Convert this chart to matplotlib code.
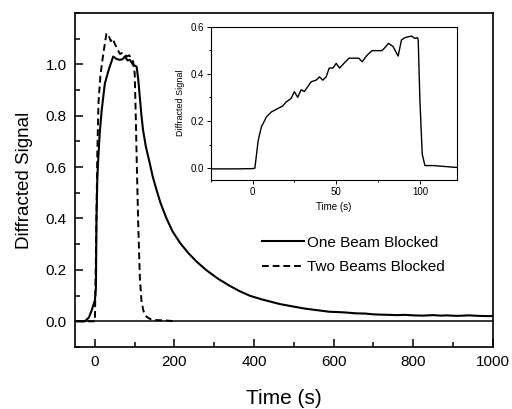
import matplotlib
matplotlib.use('Agg')
import matplotlib.pyplot as plt
from matplotlib.ticker import MultipleLocator

plt.rcParams['font.family'] = ['Liberation Sans', 'DejaVu Sans']

# main panel: one beam blocked (solid)
t_one = [-45, -25, -15, -8, 0, 2.5, 4, 6, 8, 12, 17, 25, 35, 46, 55, 63, 70, 75, 82, 88,
         96, 100, 105, 109, 113, 117, 121, 128, 138, 145, 155, 165, 180, 195, 214, 235, 255,
         280, 310, 340, 364, 390, 420, 445, 465, 500, 525, 549, 570, 590, 610, 632, 655, 680,
         700, 716, 740, 760, 780, 800, 825, 850, 870, 884, 910, 940, 965, 992, 1000]
y_one = [0, 0, 0.015, 0.043, 0.082, 0.13, 0.4, 0.55, 0.62, 0.73, 0.82, 0.925, 0.98, 1.03,
         1.02, 1.017, 1.02, 1.03, 1.015, 1.017, 0.998, 0.995, 0.99, 0.94, 0.87, 0.80, 0.744,
         0.68, 0.614, 0.565, 0.51, 0.46, 0.40, 0.35, 0.305, 0.265, 0.233, 0.199, 0.165, 0.137,
         0.117, 0.099, 0.085, 0.075, 0.067, 0.057, 0.05, 0.045, 0.041, 0.037, 0.036, 0.034,
         0.031, 0.030, 0.027, 0.026, 0.025, 0.024, 0.025, 0.023, 0.022, 0.024, 0.022, 0.023,
         0.021, 0.023, 0.021, 0.02, 0.021]

# main panel: two beams blocked (dashed)
t_two = [-45, -10, 0, 3, 6, 9, 14, 21, 29, 35, 40, 44, 50, 56, 63, 70, 75, 80, 86, 92, 96,
         100, 103, 105, 109, 113, 117, 122, 130, 140, 150, 180, 200]
y_two = [0, 0, 0, 0.3, 0.65, 0.85, 0.96, 1.04, 1.12, 1.11, 1.09, 1.10, 1.08, 1.06, 1.04,
         1.045, 1.04, 1.03, 1.035, 1.02, 1.01, 0.965, 0.78, 0.63, 0.37, 0.17, 0.08, 0.04,
         0.017, 0.008, 0.005, 0.003, 0.0]

# inset: one beam, 0-100 s
t_ins = [-25, -10, 0, 1.4, 3.4, 5.3, 8.3, 11.2, 15.2, 18, 20, 23, 25, 27, 29, 31, 35, 38,
         40, 42, 44, 45.8, 48, 50, 52, 54.6, 57.6, 63.5, 65.5, 68.5, 71.4, 77.3, 79, 81.3,
         84, 87, 89, 91, 95, 97, 98.6, 99, 100, 101.4, 103, 108, 122]
y_ins = [-0.003, -0.003, -0.002, 0.0, 0.118, 0.175, 0.217, 0.238, 0.253, 0.263, 0.28,
         0.295, 0.324, 0.30, 0.332, 0.325, 0.366, 0.373, 0.387, 0.373, 0.387, 0.424, 0.424,
         0.444, 0.424, 0.444, 0.466, 0.466, 0.451, 0.479, 0.498, 0.498, 0.51, 0.529, 0.515,
         0.475, 0.543, 0.553, 0.56, 0.55, 0.553, 0.543, 0.29, 0.06, 0.011, 0.011, 0.003]

fig = plt.figure(figsize=(5.12, 4.09), dpi=100)
ax = fig.add_axes([0.1465, 0.1516, 0.816, 0.817])

ax.plot(t_one, y_one, color='black', lw=1.5, label='One Beam Blocked')
ax.plot(t_two, y_two, color='black', lw=1.4, dashes=(3.5, 2), label='Two Beams Blocked')
ax.axhline(0, color='black', lw=1.1)

ax.set_xlim(-50, 1000)
ax.set_ylim(-0.1, 1.2)
ax.xaxis.set_major_locator(MultipleLocator(200))
ax.xaxis.set_minor_locator(MultipleLocator(100))
ax.set_yticks([0.0, 0.2, 0.4, 0.6, 0.8, 1.0])
ax.yaxis.set_minor_locator(MultipleLocator(0.1))
ax.tick_params(which='both', direction='in', top=False, right=False, width=1.1)
ax.tick_params(which='major', length=6, labelsize=11)
ax.tick_params(axis='x', which='major', pad=6)
ax.tick_params(axis='y', which='major', pad=6)
ax.tick_params(which='minor', length=3.5)
ax.set_ylim(-0.1, 1.2)
for s in ax.spines.values():
    s.set_linewidth(1.2)

ax.set_xlabel('Time (s)', fontsize=15, labelpad=14)
ax.set_ylabel('Diffracted Signal', fontsize=13.5, labelpad=9)

ax.legend(loc='center left', bbox_to_anchor=(0.447, 0.275), frameon=False, fontsize=11,
          handlelength=2.75, handletextpad=0.2, labelspacing=0.7, borderpad=0,
          borderaxespad=0)

# inset
ins = fig.add_axes([0.4115, 0.56, 0.4805, 0.375])
ins.plot(t_ins, y_ins, color='black', lw=1.0)
ins.set_xlim(-25, 122)
ins.set_ylim(-0.05, 0.6)
ins.set_xticks([0, 50, 100])
ins.xaxis.set_minor_locator(MultipleLocator(25))
ins.set_yticks([0.0, 0.2, 0.4, 0.6])
ins.yaxis.set_minor_locator(MultipleLocator(0.1))
ins.tick_params(which='both', direction='out', top=False, right=False, width=0.7,
                labelsize=7, pad=2)
ins.tick_params(which='major', length=3)
ins.tick_params(which='minor', length=1.5)
for s in ins.spines.values():
    s.set_linewidth(0.8)
ins.set_xlabel('Time (s)', fontsize=7, labelpad=4)
ins.set_ylabel('Diffracted Signal', fontsize=6.5, labelpad=4)

fig.savefig('out.png', dpi=100)
